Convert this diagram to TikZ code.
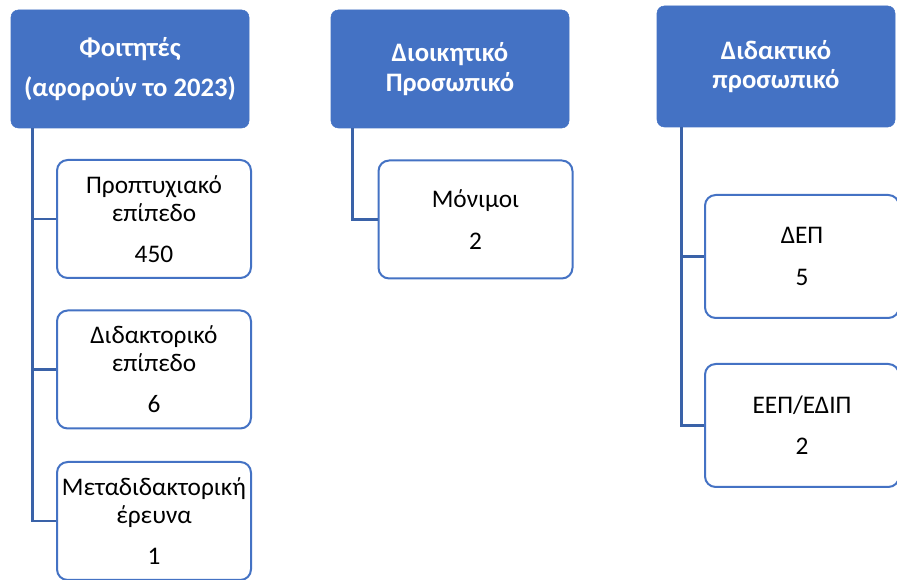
\documentclass[tikz,border=0pt]{standalone}
\usepackage{fontspec}
\setmainfont{Carlito}
\definecolor{hblue}{HTML}{4472C4}
\definecolor{lblue}{HTML}{3A62A8}
\begin{document}
\begin{tikzpicture}[x=0.75pt,y=-0.75pt,
  head/.style={draw=hblue,fill=hblue,rounded corners=5.5pt,text=white,
    minimum width=178.5pt,minimum height=88.5pt,align=center,inner sep=0pt,
    font=\fontsize{20}{22}\selectfont\bfseries},
  child/.style={draw=hblue,line width=1.5pt,fill=white,rounded corners=8pt,text=black,
    minimum width=145.5pt,minimum height=88.5pt,align=center,inner sep=0pt,
    font=\fontsize{19}{21}\selectfont},
  conn/.style={draw=lblue,line width=1.9pt}]
\useasboundingbox (0,0) rectangle (897,580);
\clip (0,0) rectangle (897,580);
\fill[white] (0,0) rectangle (897,580);
% headers
\node[head] (h1) at (130,69) {Φοιτητές\\[8pt](αφορούν το 2023)};
\node[head] (h2) at (450,69) {Διοικητικό\\Προσωπικό};
\node[head,minimum height=90.75pt] (h3) at (776,66.5) {Διδακτικό\\προσωπικό};
% children
\node[child] (c1) at (154,219) {Προπτυχιακό\\επίπεδο\\[10pt]450};
\node[child] (c2) at (154,369.5) {Διδακτορικό\\επίπεδο\\[10pt]6};
\node[child] (c3) at (154,521) {Μεταδιδακτορική\\έρευνα\\[10pt]1};
\node[child] (m1) at (475.5,219.5) {Μόνιμοι\\[10pt]2};
\node[child,minimum height=92.25pt] (d1) at (802,256.5) {ΔΕΠ\\[10pt]5};
\node[child,minimum height=92.25pt] (d2) at (802,425.5) {ΕΕΠ/ΕΔΙΠ\\[10pt]2};
% connectors
\draw[conn] ([xshift=16.5pt]h1.south west) |- (c1.west);
\draw[conn] ([xshift=16.5pt]h1.south west) |- (c2.west);
\draw[conn] ([xshift=16.5pt]h1.south west) |- (c3.west);
\draw[conn] ([xshift=16.5pt]h2.south west) |- (m1.west);
\draw[conn] ([xshift=18.75pt]h3.south west) |- (d1.west);
\draw[conn] ([xshift=18.75pt]h3.south west) |- (d2.west);
\end{tikzpicture}
\end{document}
